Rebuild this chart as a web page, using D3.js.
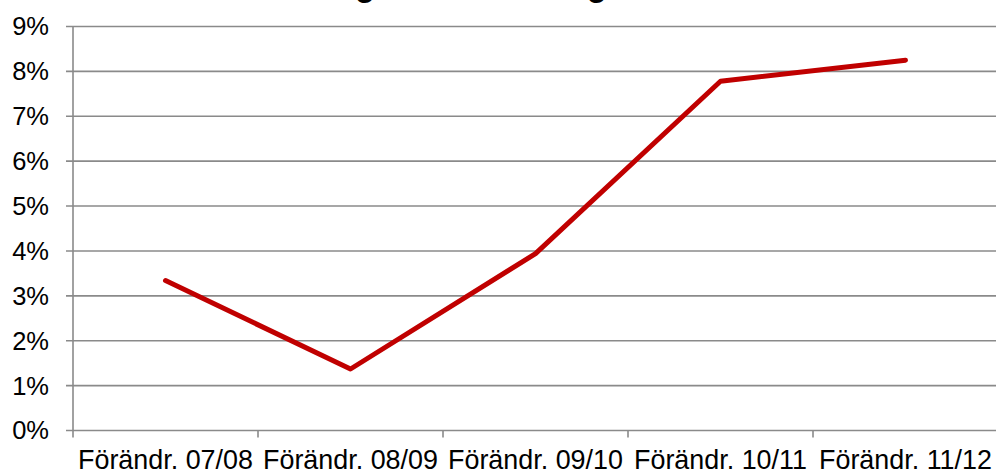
<!DOCTYPE html>
<html lang="sv">
  <head>
    <meta charset="UTF-8" />
    <title>Förändring</title>
    <script src="https://d3js.org/d3.v7.min.js"></script>
    <style>
      body {
        margin: 0;
        background: #fff;
      }
      text {
        font-family: "Liberation Sans", Arial, sans-serif;
        fill: #000;
      }
      .grid {
        stroke: #8a8a8a;
        stroke-width: 1.6;
      }
      .serie {
        fill: none;
        stroke: #c00000;
        stroke-width: 5;
        stroke-linejoin: round;
        stroke-linecap: round;
      }
    </style>
  </head>
  <body>
    <svg id="canvas" width="996" height="474"></svg>

    <script>
      // data
      const kategorier = [
        "Förändr. 07/08",
        "Förändr. 08/09",
        "Förändr. 09/10",
        "Förändr. 10/11",
        "Förändr. 11/12",
      ];
      const varden = [0.0334, 0.0137, 0.0394, 0.0778, 0.0825];
      const yTicks = [0, 0.01, 0.02, 0.03, 0.04, 0.05, 0.06, 0.07, 0.08, 0.09];
      const titel = "Förändring av omsättning";

      const svg = d3.select("#canvas");
      const plotLeft = 73,
        plotRight = 998,
        plotTop = 26.5,
        plotBottom = 430.5;

      const x = d3.scaleBand().domain(kategorier).range([plotLeft, plotRight]).padding(0);
      const y = d3.scaleLinear().domain([0, 0.09]).range([plotBottom, plotTop]);

      // titel, bara g-svansarna syns i överkanten
      const t = svg
        .append("text")
        .attr("x", 0)
        .attr("y", -4)
        .attr("font-size", 32)
        .attr("font-weight", "bold")
        .text(titel);
      const node = t.node();
      const g1 = titel.indexOf("g");
      const g2 = titel.lastIndexOf("g");
      const mid = (i) => {
        const e = node.getExtentOfChar(i);
        return e.x + e.width / 2;
      };
      // skala så att g:na hamnar där de syns i förlagan
      const fs = (32 * (597 - 365)) / (mid(g2) - mid(g1));
      t.attr("font-size", fs).attr("y", -0.12 * fs);
      t.attr("x", 365 - mid(g1));

      // rutnät
      svg
        .selectAll(".grid")
        .data(yTicks)
        .enter()
        .append("line")
        .attr("class", "grid")
        .attr("x1", plotLeft - 7)
        .attr("x2", 996)
        .attr("y1", (d) => y(d))
        .attr("y2", (d) => y(d));

      // y-axel
      svg
        .append("line")
        .attr("class", "grid")
        .attr("x1", plotLeft)
        .attr("x2", plotLeft)
        .attr("y1", plotTop)
        .attr("y2", plotBottom + 7);

      // x-axelns streck
      svg
        .selectAll(".xtick")
        .data(kategorier.slice(1))
        .enter()
        .append("line")
        .attr("class", "grid xtick")
        .attr("x1", (d) => x(d))
        .attr("x2", (d) => x(d))
        .attr("y1", plotBottom)
        .attr("y2", plotBottom + 7);

      // y-etiketter
      svg
        .selectAll(".ylab")
        .data(yTicks)
        .enter()
        .append("text")
        .attr("class", "ylab")
        .attr("x", 49)
        .attr("y", (d) => y(d))
        .attr("dy", "0.35em")
        .attr("text-anchor", "end")
        .attr("font-size", 25.5)
        .text(d3.format(".0%"));

      // x-etiketter
      svg
        .selectAll(".xlab")
        .data(kategorier)
        .enter()
        .append("text")
        .attr("class", "xlab")
        .attr("x", (d) => x(d) + x.bandwidth() / 2)
        .attr("y", 469)
        .attr("text-anchor", "middle")
        .attr("font-size", 26.9)
        .text((d) => d);

      // linje
      const linje = d3
        .line()
        .x((d, i) => x(kategorier[i]) + x.bandwidth() / 2)
        .y((d) => y(d));

      svg.append("path").datum(varden).attr("class", "serie").attr("d", linje);
    </script>
  </body>
</html>
